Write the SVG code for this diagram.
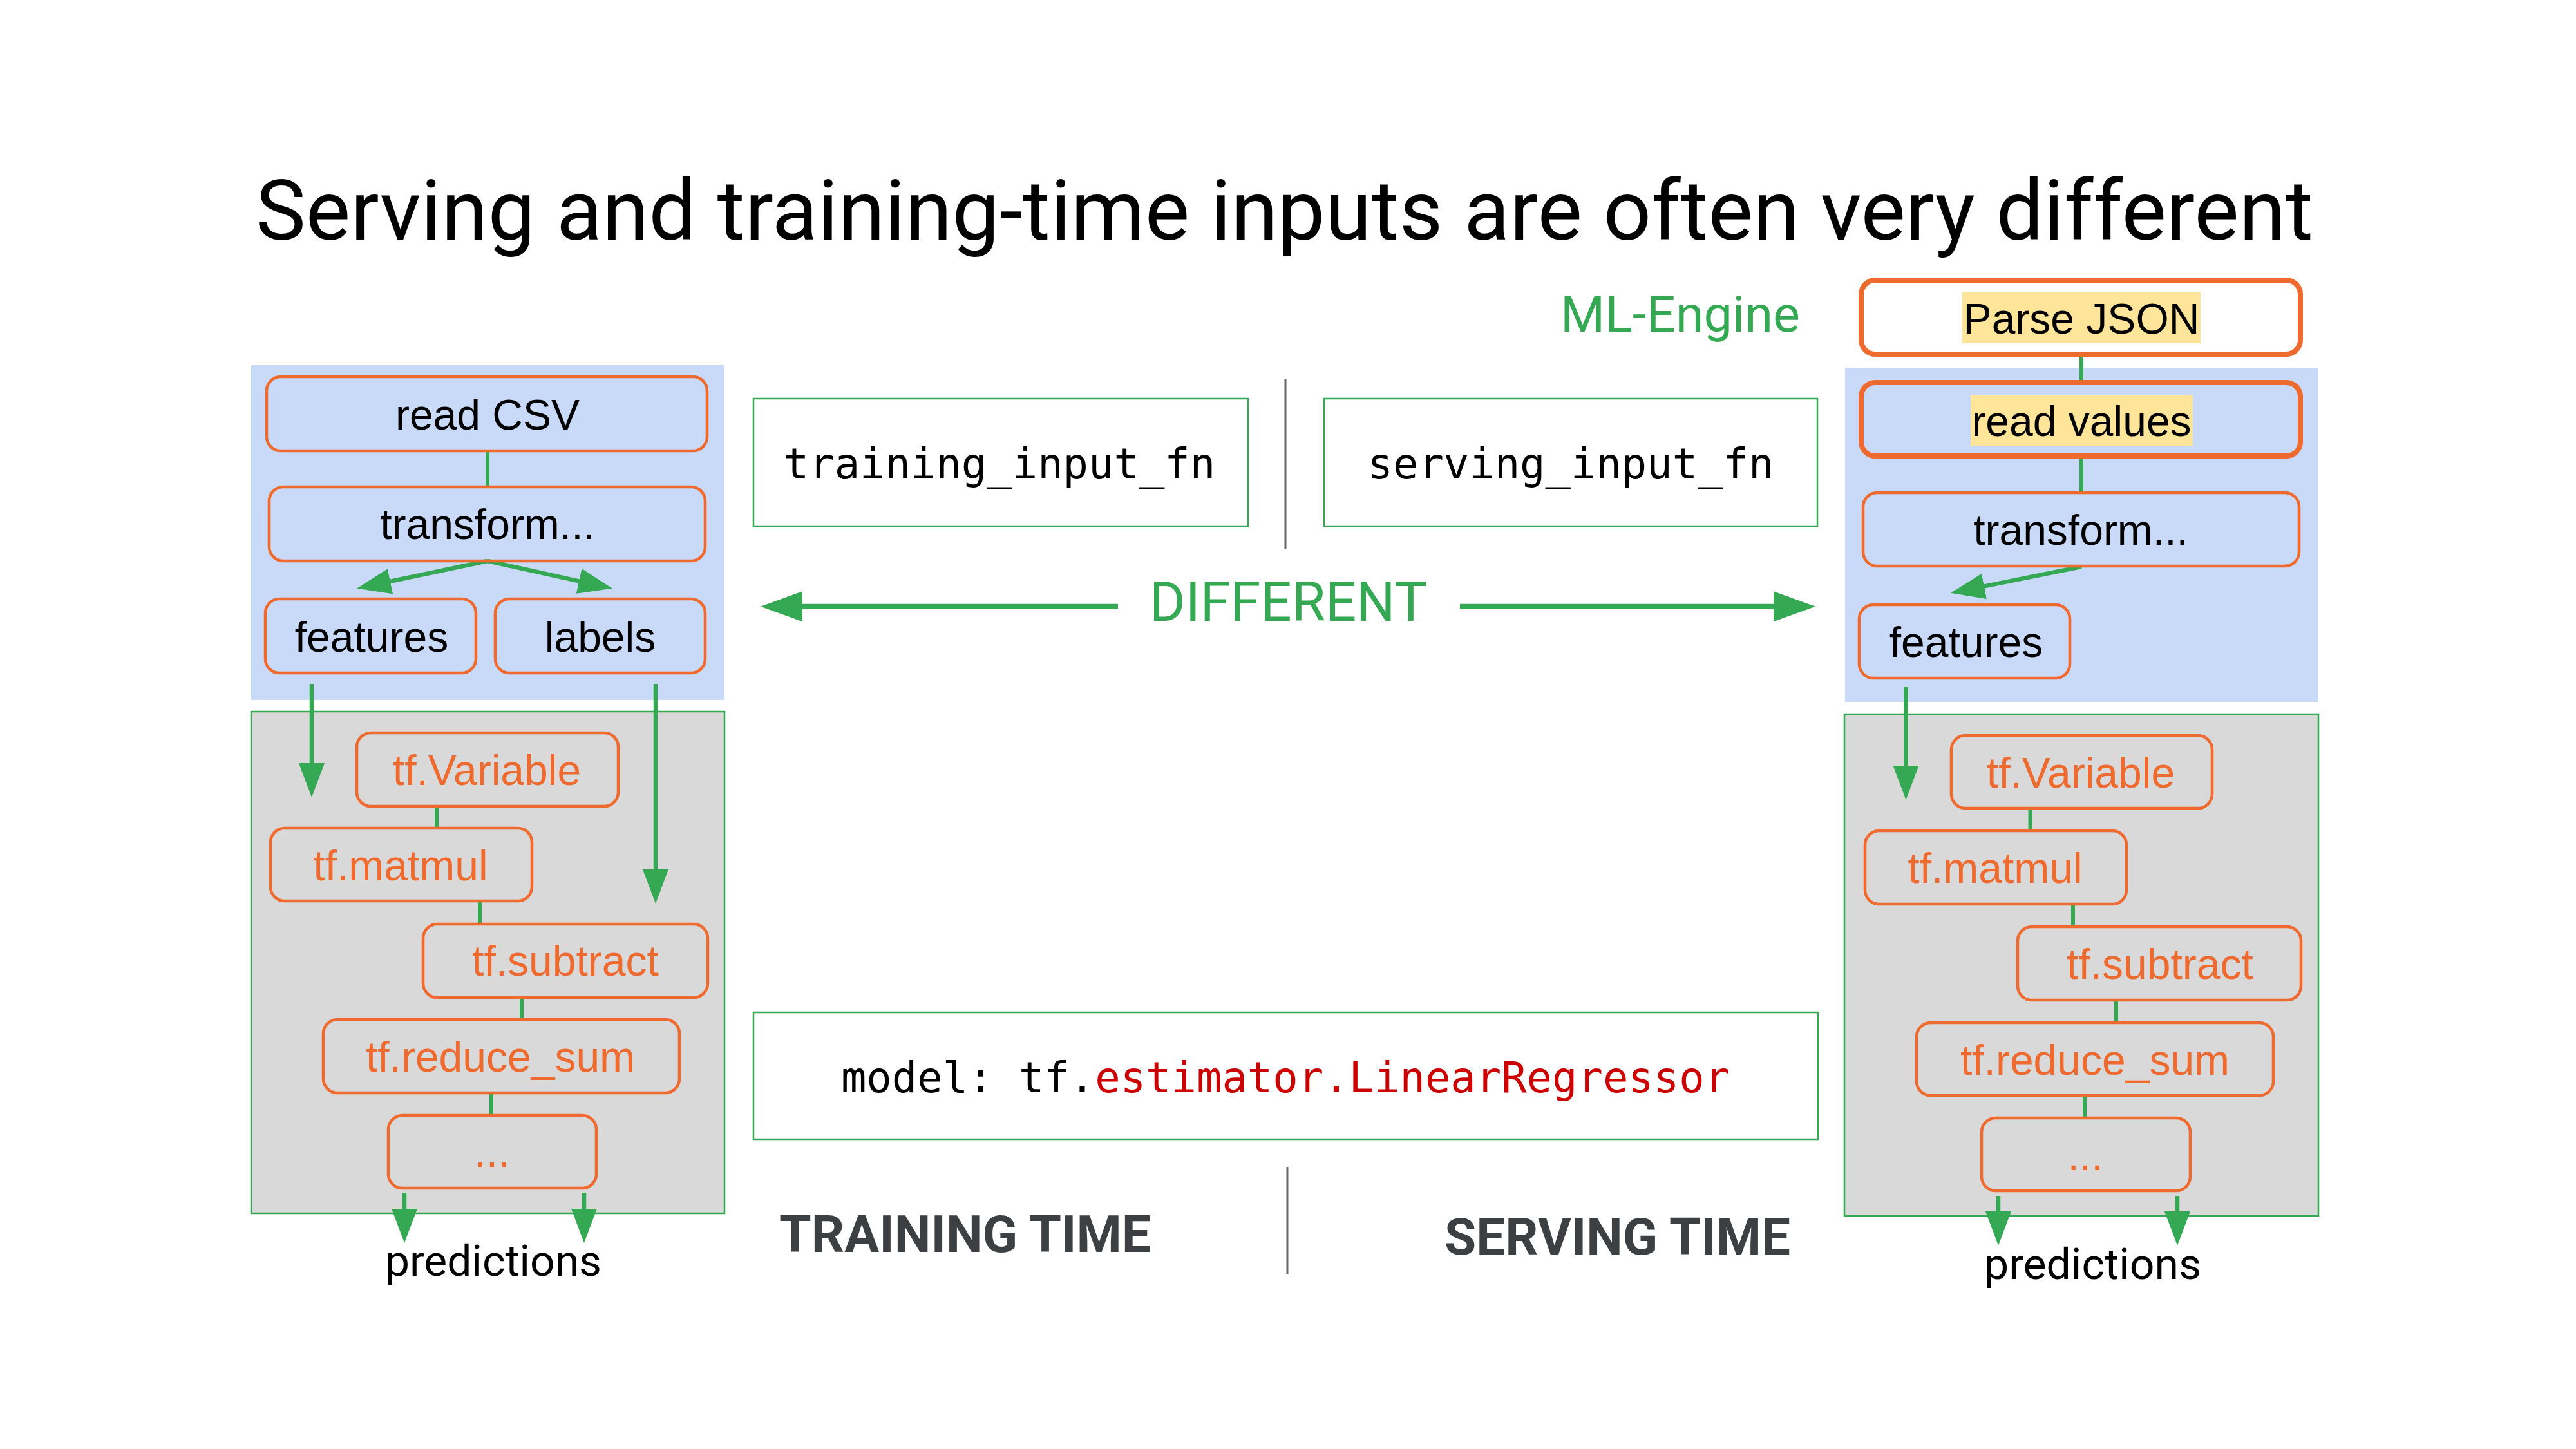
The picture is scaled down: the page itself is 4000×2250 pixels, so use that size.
<svg xmlns="http://www.w3.org/2000/svg" width="4000" height="2250" viewBox="0 0 4000 2250">
  <defs>
    <style>
      .panel-blue { fill: #C9DAF8; }
      .panel-gray { fill: #D9D9D9; stroke: #34A853; stroke-width: 2.5; }
      .node { fill: none; stroke: #EF6A2E; stroke-width: 4.5; }
      .node-bold { stroke: #EF6A2E; stroke-width: 8; }
      .code-box { fill: #FFFFFF; stroke: #34A853; stroke-width: 2.5; }
      .hl { fill: #FFE599; }
      .lbl { font-family: "Liberation Sans", Arial, sans-serif; font-size: 66px; text-anchor: middle; fill: #000000; }
      .op { font-family: "Liberation Sans", Arial, sans-serif; font-size: 66px; text-anchor: middle; fill: #EF6A2E; }
      .mono { font-family: "DejaVu Sans Mono", "Liberation Mono", monospace; font-size: 65.5px; fill: #000000; }
      .sans { font-family: Roboto, "Noto Sans", sans-serif; }
      .link { stroke: #34A853; stroke-width: 6; fill: none; }
      .flow { stroke: #34A853; stroke-width: 6.5; fill: none; marker-end: url(#head); }
      .wide { stroke: #34A853; stroke-width: 8; fill: none; marker-end: url(#headBig); }
      .divider { stroke: #666666; stroke-width: 3; }
    </style>
    <marker id="head" viewBox="0 0 53 40" refX="1" refY="20" markerWidth="53" markerHeight="40" markerUnits="userSpaceOnUse" orient="auto">
      <path d="M0,0 L53,20 L0,40 Z" fill="#34A853"/>
    </marker>
    <marker id="headBig" viewBox="0 0 65 47" refX="1" refY="23.5" markerWidth="65" markerHeight="47" markerUnits="userSpaceOnUse" orient="auto">
      <path d="M0,0 L65,23.5 L0,47 Z" fill="#34A853"/>
    </marker>
  </defs>

  <rect width="4000" height="2250" fill="#FFFFFF"/>

  <!-- heading -->
  <text class="sans" x="397" y="372" font-size="130" fill="#000000" textLength="3195" lengthAdjust="spacingAndGlyphs">Serving and training-time inputs are often very different</text>
  <text class="sans" x="2423" y="515" font-size="78" fill="#34A853" textLength="372" lengthAdjust="spacingAndGlyphs">ML-Engine</text>

  <!-- background panels -->
  <g id="panels">
    <rect class="panel-blue" x="390" y="567" width="735" height="520"/>
    <rect class="panel-gray" x="390" y="1105" width="735" height="779"/>
    <rect class="panel-blue" x="2865" y="571" width="735" height="519"/>
    <rect class="panel-gray" x="2864" y="1109" width="736" height="779"/>
  </g>

  <!-- connectors -->
  <g id="connectors">
    <!-- training side -->
    <line class="link" x1="757" y1="700" x2="757" y2="756"/>
    <line class="flow" x1="757" y1="871" x2="605" y2="903"/>
    <line class="flow" x1="757" y1="871" x2="900" y2="902.6"/>
    <line class="flow" x1="484" y1="1062" x2="484" y2="1186"/>
    <line class="flow" x1="1018" y1="1062" x2="1018" y2="1351"/>
    <line class="link" x1="678" y1="1252" x2="678" y2="1286"/>
    <line class="link" x1="745" y1="1399" x2="745" y2="1435"/>
    <line class="link" x1="810" y1="1549" x2="810" y2="1583"/>
    <line class="link" x1="763" y1="1697" x2="763" y2="1732"/>
    <line class="flow" x1="628" y1="1852" x2="628" y2="1878"/>
    <line class="flow" x1="907" y1="1852" x2="907" y2="1878"/>
    <!-- serving side -->
    <line class="link" x1="3232" y1="551" x2="3232" y2="594"/>
    <line class="link" x1="3232" y1="708" x2="3232" y2="765"/>
    <line class="flow" x1="3232" y1="880" x2="3080" y2="910.6"/>
    <line class="flow" x1="2959.5" y1="1066" x2="2959.5" y2="1190"/>
    <line class="link" x1="3152.5" y1="1255" x2="3152.5" y2="1290"/>
    <line class="link" x1="3219" y1="1404" x2="3219" y2="1439"/>
    <line class="link" x1="3286" y1="1553" x2="3286" y2="1588"/>
    <line class="link" x1="3237" y1="1701" x2="3237" y2="1736"/>
    <line class="flow" x1="3103" y1="1857" x2="3103" y2="1882"/>
    <line class="flow" x1="3381" y1="1857" x2="3381" y2="1882"/>
    <!-- comparison arrows -->
    <line class="wide" x1="1736" y1="941.7" x2="1245" y2="941.7"/>
    <line class="wide" x1="2267" y1="941.7" x2="2755" y2="941.7"/>
    <!-- dividers -->
    <line class="divider" x1="1996" y1="588" x2="1996" y2="853"/>
    <line class="divider" x1="1999" y1="1812" x2="1999" y2="1979"/>
  </g>

  <!-- training-time graph -->
  <g id="t-read-csv"><rect class="node" x="414" y="585" width="684" height="115" rx="22"/><text class="lbl" x="757" y="667">read CSV</text></g>
  <g id="t-transform"><rect class="node" x="418" y="756" width="677" height="115" rx="22"/><text class="lbl" x="757" y="837">transform...</text></g>
  <g id="t-features"><rect class="node" x="412" y="930" width="327" height="115" rx="22"/><text class="lbl" x="577" y="1012">features</text></g>
  <g id="t-labels"><rect class="node" x="769" y="930" width="326" height="115" rx="22"/><text class="lbl" x="932" y="1012">labels</text></g>
  <g id="t-variable"><rect class="node" x="554" y="1138" width="406" height="114" rx="22"/><text class="op" x="756" y="1219">tf.Variable</text></g>
  <g id="t-matmul"><rect class="node" x="420" y="1286" width="406" height="113" rx="22"/><text class="op" x="622" y="1367">tf.matmul</text></g>
  <g id="t-subtract"><rect class="node" x="657" y="1435" width="442" height="114" rx="22"/><text class="op" x="878" y="1515">tf.subtract</text></g>
  <g id="t-reduce-sum"><rect class="node" x="502" y="1583" width="553" height="114" rx="22"/><text class="op" x="777" y="1664">tf.reduce_sum</text></g>
  <g id="t-more"><rect class="node" x="603" y="1732" width="323" height="113" rx="22"/><text class="op" x="764" y="1812">...</text></g>
  <g id="t-predictions"><text class="sans" x="598" y="1981" font-size="66" fill="#000000" textLength="336" lengthAdjust="spacingAndGlyphs">predictions</text></g>

  <!-- serving-time graph -->
  <g id="s-parse-json"><rect x="2890" y="435" width="682" height="115" rx="22" fill="#FFFFFF" class="node-bold"/><rect class="hl" x="3047" y="454" width="370" height="79"/><text class="lbl" x="3232" y="518">Parse JSON</text></g>
  <g id="s-read-values"><rect x="2890" y="594" width="682" height="114" rx="22" fill="none" class="node-bold"/><rect class="hl" x="3060" y="613" width="345" height="79"/><text class="lbl" x="3232" y="677">read values</text></g>
  <g id="s-transform"><rect class="node" x="2893" y="765" width="677" height="114" rx="22"/><text class="lbl" x="3231" y="846">transform...</text></g>
  <g id="s-features"><rect class="node" x="2887" y="939" width="327" height="114" rx="22"/><text class="lbl" x="3053" y="1020">features</text></g>
  <g id="s-variable"><rect class="node" x="3030" y="1142" width="405" height="113" rx="22"/><text class="op" x="3231" y="1223">tf.Variable</text></g>
  <g id="s-matmul"><rect class="node" x="2896" y="1290" width="406" height="114" rx="22"/><text class="op" x="3098" y="1371">tf.matmul</text></g>
  <g id="s-subtract"><rect class="node" x="3133" y="1439" width="440" height="114" rx="22"/><text class="op" x="3354" y="1520">tf.subtract</text></g>
  <g id="s-reduce-sum"><rect class="node" x="2976" y="1588" width="554" height="113" rx="22"/><text class="op" x="3253" y="1669">tf.reduce_sum</text></g>
  <g id="s-more"><rect class="node" x="3077" y="1736" width="324" height="113" rx="22"/><text class="op" x="3238" y="1817">...</text></g>
  <g id="s-predictions"><text class="sans" x="3081" y="1986" font-size="66" fill="#000000" textLength="337" lengthAdjust="spacingAndGlyphs">predictions</text></g>

  <!-- centre column -->
  <g id="training-input-fn"><rect class="code-box" x="1170" y="619" width="768" height="198"/><text class="mono" x="1552" y="743" text-anchor="middle">training_input_fn</text></g>
  <g id="serving-input-fn"><rect class="code-box" x="2056" y="619" width="766" height="198"/><text class="mono" x="2439" y="743" text-anchor="middle">serving_input_fn</text></g>
  <g id="different"><text class="sans" x="1785" y="964" font-size="86" fill="#34A853" textLength="431" lengthAdjust="spacingAndGlyphs">DIFFERENT</text></g>
  <g id="model"><rect class="code-box" x="1170" y="1572" width="1653" height="197"/><text class="mono" x="1996" y="1696" text-anchor="middle">model: tf.<tspan fill="#CC0000">estimator.LinearRegressor</tspan></text></g>
  <g id="training-time"><text class="sans" x="1210" y="1944" font-size="79" font-weight="bold" fill="#3C4043" textLength="577" lengthAdjust="spacingAndGlyphs">TRAINING TIME</text></g>
  <g id="serving-time"><text class="sans" x="2243" y="1948" font-size="79" font-weight="bold" fill="#3C4043" textLength="537" lengthAdjust="spacingAndGlyphs">SERVING TIME</text></g>
</svg>
